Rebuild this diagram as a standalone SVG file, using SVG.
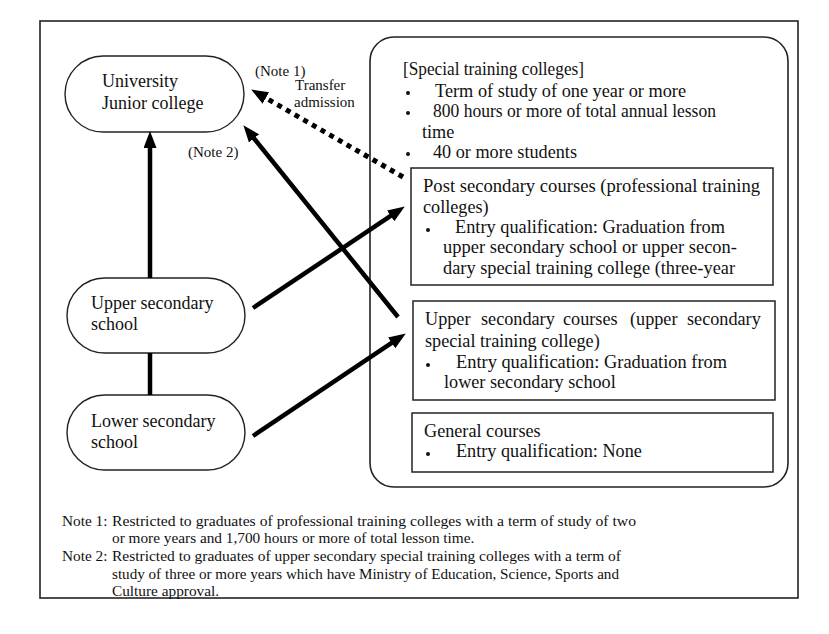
<svg xmlns="http://www.w3.org/2000/svg" width="829" height="634" viewBox="0 0 829 634">
<style>
  text { font-family: "Liberation Serif", "Times New Roman", serif; fill: #111; }
  .b { font-size: 18.2px; }
  .n { font-size: 18px; }
  .s { font-size: 15px; }
  .note { font-size: 15.3px; }
  .frame { fill: none; stroke: #222; stroke-width: 1.6; }
  .pill { fill: #fff; stroke: #222; stroke-width: 1.4; }
  .box { fill: #fff; stroke: #222; stroke-width: 1.5; }
  .conn { stroke: #000; stroke-width: 4.5; fill: none; }
  .dot { stroke: #000; stroke-width: 5; stroke-dasharray: 5 5; fill: none; }
  .bul { fill: #111; }
</style>
<defs>
  <marker id="ah" markerUnits="userSpaceOnUse" markerWidth="18" markerHeight="14" refX="4" refY="6.5" orient="auto">
    <path d="M0,0 L17,6.5 L0,13 z" fill="#000"/>
  </marker>
</defs>
<rect x="0" y="0" width="829" height="634" fill="#fff"/>
<rect class="frame" x="40" y="21" width="758" height="577"/>

<g id="special-training-colleges">
  <rect class="frame" x="370" y="37" width="418" height="450" rx="24"/>
  <text class="b" x="403" y="75" textLength="181" lengthAdjust="spacingAndGlyphs">[Special training colleges]</text>
  <circle class="bul" cx="408" cy="93" r="2"/>
  <text class="b" x="435" y="97" textLength="251" lengthAdjust="spacingAndGlyphs">Term of study of one year or more</text>
  <circle class="bul" cx="408" cy="113" r="2"/>
  <text class="b" x="433" y="117" textLength="283" lengthAdjust="spacingAndGlyphs">800 hours or more of total annual lesson</text>
  <text class="b" x="422" y="138">time</text>
  <circle class="bul" cx="408" cy="154" r="2"/>
  <text class="b" x="433" y="158">40 or more students</text>
</g>

<g id="post-secondary">
  <rect class="box" x="411" y="168" width="362" height="117"/>
  <text class="b" x="423" y="192" textLength="337" lengthAdjust="spacingAndGlyphs">Post secondary courses (professional training</text>
  <text class="b" x="423" y="213">colleges)</text>
  <circle class="bul" cx="428" cy="230" r="2"/>
  <text class="b" x="455" y="233" textLength="270" lengthAdjust="spacingAndGlyphs">Entry qualification: Graduation from</text>
  <text class="b" x="443" y="253" textLength="294" lengthAdjust="spacingAndGlyphs">upper secondary school or upper secon-</text>
  <text class="b" x="443" y="274" textLength="292" lengthAdjust="spacingAndGlyphs">dary special training college (three-year</text>
</g>

<g id="upper-secondary-courses">
  <rect class="box" x="413" y="301" width="362" height="99"/>
  <text class="b" y="325"><tspan x="425">Upper</tspan><tspan x="481">secondary</tspan><tspan x="563">courses</tspan><tspan x="630">(upper</tspan><tspan x="687">secondary</tspan></text>
  <text class="b" x="425" y="347">special training college)</text>
  <circle class="bul" cx="428" cy="365" r="2"/>
  <text class="b" x="456" y="368" textLength="271" lengthAdjust="spacingAndGlyphs">Entry qualification: Graduation from</text>
  <text class="b" x="444" y="388">lower secondary school</text>
</g>

<g id="general-courses">
  <rect class="box" x="412" y="413" width="361" height="59"/>
  <text class="b" x="424" y="437">General courses</text>
  <circle class="bul" cx="428" cy="454" r="2"/>
  <text class="b" x="456" y="457">Entry qualification: None</text>
</g>

<g id="university">
  <rect class="pill" x="65" y="56" width="179" height="76" rx="38"/>
  <text class="n" x="102" y="87">University</text>
  <text class="n" x="102" y="109">Junior college</text>
</g>

<g id="upper-secondary-school">
  <rect class="pill" x="67" y="278" width="178" height="75" rx="37.5"/>
  <text class="n" x="91" y="309">Upper secondary</text>
  <text class="n" x="91" y="330">school</text>
</g>

<g id="lower-secondary-school">
  <rect class="pill" x="67" y="395" width="178" height="75" rx="37.5"/>
  <text class="n" x="91" y="427">Lower secondary</text>
  <text class="n" x="91" y="448">school</text>
</g>

<g id="connectors">
  <line class="conn" x1="150" y1="278" x2="150" y2="144" marker-end="url(#ah)"/>
  <line class="conn" x1="150" y1="395" x2="150" y2="353"/>
  <line class="conn" x1="253" y1="308" x2="394" y2="213.7" marker-end="url(#ah)"/>
  <line class="conn" x1="253" y1="436" x2="395" y2="340.7" marker-end="url(#ah)"/>
  <line class="conn" x1="398" y1="317" x2="251.5" y2="135.3" marker-end="url(#ah)"/>
  <line class="dot" x1="403" y1="177" x2="262.4" y2="96" marker-end="url(#ah)"/>
  <text class="s" x="255" y="76">(Note 1)</text>
  <text class="s" x="295" y="90">Transfer</text>
  <text class="s" x="294" y="107">admission</text>
  <text class="s" x="188" y="157">(Note 2)</text>
</g>

<g id="notes">
  <text class="note" x="62" y="526">Note 1:</text>
  <text class="note" x="112" y="526" textLength="524" lengthAdjust="spacingAndGlyphs">Restricted to graduates of professional training colleges with a term of study of two</text>
  <text class="note" x="112" y="543">or more years and 1,700 hours or more of total lesson time.</text>
  <text class="note" x="62" y="561">Note 2:</text>
  <text class="note" x="112" y="561" textLength="509" lengthAdjust="spacingAndGlyphs">Restricted to graduates of upper secondary special training colleges with a term of</text>
  <text class="note" x="112" y="579" textLength="507" lengthAdjust="spacingAndGlyphs">study of three or more years which have Ministry of Education, Science, Sports and</text>
  <text class="note" x="112" y="596">Culture approval.</text>
</g>
</svg>
